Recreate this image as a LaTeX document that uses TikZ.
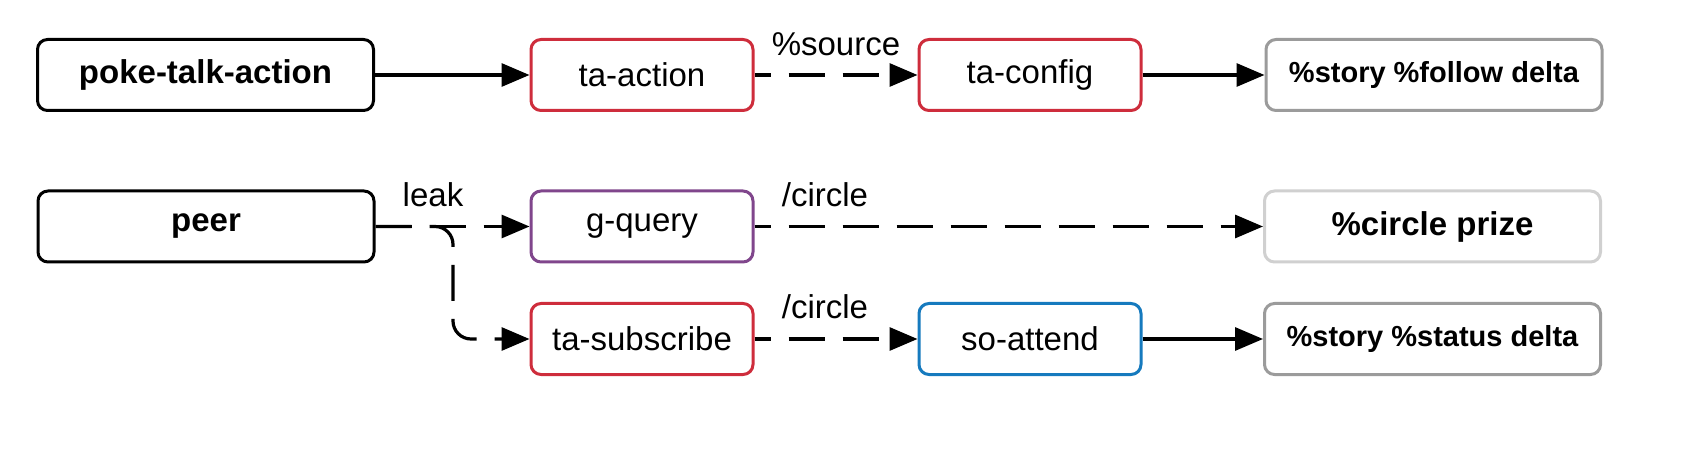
\documentclass[tikz,border=0pt]{standalone}
\usepackage{fontspec}
\setmainfont{Liberation Sans}
\usetikzlibrary{arrows.meta}
\definecolor{cred}{RGB}{206,45,60}
\definecolor{cpurple}{RGB}{128,70,140}
\definecolor{cblue}{RGB}{22,122,190}
\definecolor{cgray}{RGB}{155,155,155}
\definecolor{clight}{RGB}{208,208,208}
\begin{document}
\begin{tikzpicture}[x=1pt,y=-1pt,
  box/.style={draw, line width=3pt, rounded corners=10pt, minimum height=71pt,
    inner sep=0pt, fill=white, font=\fontsize{33}{40}\selectfont},
  wide/.style={box, minimum width=336pt},
  mid/.style={box, minimum width=222pt},
  lbl/.style={font=\fontsize{33}{40}\selectfont, inner sep=0pt},
  conn/.style={line width=3.2pt, -{Triangle[length=28pt,width=23pt]}},
  dconn/.style={conn, dash pattern=on 36pt off 18pt, dash phase=20pt}]
\useasboundingbox (0,0) rectangle (1681,454);
% row 1
\node[wide, font=\fontsize{33}{40}\selectfont\bfseries] (poke) at (205.5,75) {poke-talk-action};
\node[mid, draw=cred] (taaction) at (642,75) {ta-action};
\node[mid, draw=cred] (taconfig) at (1030,75) {ta-config};
\node[wide, draw=cgray, font=\fontsize{29}{35}\selectfont\bfseries] (storyf) at (1434,75) {\%story \%follow delta};
% row 2
\node[wide, font=\fontsize{33}{40}\selectfont\bfseries] (peer) at (206,226.5) {peer};
\node[mid, draw=cpurple] (gquery) at (642,226.5) {g-query};
\node[wide, draw=clight, font=\fontsize{33}{40}\selectfont\bfseries] (prize) at (1432.5,226.5) {\%circle prize};
% row 3
\node[mid, draw=cred] (tasub) at (642,339) {ta-subscribe};
\node[mid, draw=cblue] (soatt) at (1030,339) {so-attend};
\node[wide, draw=cgray, font=\fontsize{29}{35}\selectfont\bfseries] (storys) at (1432.5,339) {\%story \%status delta};
% labels
\node[lbl] (lsource) at (836,44) {\%source};
\node[lbl] (lleak) at (433,195) {leak};
\node[lbl] (lcirc1) at (825,195) {/circle};
\node[lbl] (lcirc2) at (825,307) {/circle};
\coordinate (bend) at (453,0);
% connectors
\draw[conn] (poke) -- (taaction);
\draw[dconn] (taaction) -- (taconfig);
\draw[conn] (taconfig) -- (storyf);
\draw[dconn, dash phase=0pt] (peer.east) -- (gquery);
\draw[dconn, dash phase=0pt, rounded corners=18pt] (peer.east) -- (peer.east -| bend) |- (tasub.west);
\draw[dconn] (gquery) -- (prize);
\draw[dconn] (tasub) -- (soatt);
\draw[conn] (soatt) -- (storys);
\end{tikzpicture}
\end{document}
